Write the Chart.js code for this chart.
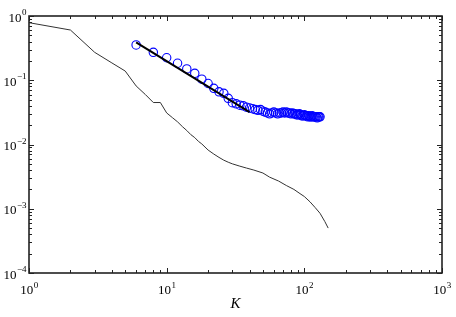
<!DOCTYPE html>
<html>
<head>
<meta charset="utf-8">
<script src="https://cdn.jsdelivr.net/npm/chart.js@4/dist/chart.umd.min.js"></script>
<style>
  html, body { margin: 0; padding: 0; background: #fff; }
  #chart { display: block; }
</style>
</head>
<body>
<canvas id="chart" width="456" height="317"></canvas>
<script>
// degree distribution (thin black curve)
const curveK = [1, 2, 3, 4, 5, 6, 7, 8, 9, 10, 11, 12, 13, 14, 15, 16, 17, 18, 20, 22, 24, 26, 28, 30,
  34, 38, 43, 50, 56, 65, 74, 84, 93, 100, 110, 120, 130, 141, 149];
const curveP = [0.787, 0.605, 0.272, 0.186, 0.139, 0.0815, 0.060, 0.045, 0.045, 0.031, 0.0262, 0.0225,
  0.019, 0.0165, 0.0142, 0.0128, 0.0112, 0.0102, 0.0082, 0.0071, 0.0063, 0.0057, 0.0053, 0.0050,
  0.0046, 0.0043, 0.0040, 0.0036, 0.0031, 0.0027, 0.0023, 0.0020, 0.00172, 0.00155, 0.00128,
  0.00104, 0.00085, 0.00063, 0.00050];

// blue circles
const circleK = [6, 8, 10, 12, 14, 16, 18, 20, 22, 24, 26, 28, 30, 32, 34, 36, 38, 40, 42, 44, 46, 48,
  50, 52, 54, 56, 58, 60, 62, 64, 66, 68, 70, 72, 74, 76, 78, 80, 82, 84, 86, 88, 90, 92, 94, 96, 98,
  100, 102, 104, 106, 108, 110, 112, 114, 116, 118, 120, 122, 124, 126, 128, 130];
const circleP = [0.354, 0.272, 0.224, 0.184, 0.150, 0.128, 0.104, 0.089, 0.075, 0.066, 0.0626, 0.0524,
  0.0448, 0.043, 0.041, 0.040, 0.038, 0.037, 0.036, 0.035, 0.034, 0.035, 0.033, 0.032, 0.031, 0.030,
  0.031, 0.032, 0.031, 0.030, 0.031, 0.031, 0.032, 0.031, 0.032, 0.031, 0.031, 0.030, 0.031, 0.030,
  0.030, 0.029, 0.029, 0.030, 0.029, 0.028, 0.028, 0.029, 0.028, 0.028, 0.027, 0.028, 0.027, 0.027,
  0.028, 0.027, 0.027, 0.027, 0.027, 0.026, 0.027, 0.027, 0.027];

// fitted power-law line
const fitK = [6, 40];
const fitP = [0.39, 0.032];

// axis ticks (1..9 x 10^n)
const xTickVals = [1, 2, 3, 4, 5, 6, 7, 8, 9, 10, 20, 30, 40, 50, 60, 70, 80, 90,
  100, 200, 300, 400, 500, 600, 700, 800, 900, 1000];
const yTickVals = [0.0001, 0.0002, 0.0003, 0.0004, 0.0005, 0.0006, 0.0007, 0.0008, 0.0009,
  0.001, 0.002, 0.003, 0.004, 0.005, 0.006, 0.007, 0.008, 0.009,
  0.01, 0.02, 0.03, 0.04, 0.05, 0.06, 0.07, 0.08, 0.09,
  0.1, 0.2, 0.3, 0.4, 0.5, 0.6, 0.7, 0.8, 0.9, 1];

const SERIF = '"Liberation Serif", "Times New Roman", serif';

const pts = (xs, ys) => xs.map((x, i) => ({ x: x, y: ys[i] }));
const expOf = v => {
  const e = Math.log10(v);
  return Math.abs(e - Math.round(e)) < 1e-6 ? Math.round(e) : null;
};

// inward ticks on all four sides, frame, and 10^n labels
const framePlugin = {
  id: 'frame',
  afterDatasetsDraw(chart) {
    const { ctx, chartArea: a, scales: { x, y } } = chart;
    ctx.save();
    ctx.strokeStyle = '#222';
    ctx.lineWidth = 1;
    ctx.beginPath();
    xTickVals.forEach(v => {
      const px = Math.round(x.getPixelForValue(v)) + 0.5;
      const len = expOf(v) !== null ? 5 : 3;
      ctx.moveTo(px, a.bottom); ctx.lineTo(px, a.bottom - len);
      ctx.moveTo(px, a.top); ctx.lineTo(px, a.top + len);
    });
    yTickVals.forEach(v => {
      const py = Math.round(y.getPixelForValue(v)) + 0.5;
      const len = expOf(v) !== null ? 5 : 3;
      ctx.moveTo(a.left, py); ctx.lineTo(a.left + len, py);
      ctx.moveTo(a.right, py); ctx.lineTo(a.right - len, py);
    });
    ctx.stroke();
    ctx.lineWidth = 1.6;
    ctx.strokeRect(a.left, a.top, a.right - a.left, a.bottom - a.top);

    ctx.fillStyle = '#000';
    ctx.textBaseline = 'alphabetic';
    const drawLabel = (e, cx, base, align) => {
      const exp = String(e).replace('-', '\u2212');
      ctx.font = '13px ' + SERIF;
      const w1 = ctx.measureText('10').width;
      ctx.font = '9px ' + SERIF;
      const w2 = ctx.measureText(exp).width;
      const left = align === 'center' ? cx - (w1 + w2) / 2 : cx - (w1 + w2);
      ctx.textAlign = 'left';
      ctx.font = '13px ' + SERIF;
      ctx.fillText('10', left, base);
      ctx.font = '9px ' + SERIF;
      ctx.fillText(exp, left + w1 + 0.5, base - 6.5);
    };
    xTickVals.forEach(v => {
      const e = expOf(v);
      if (e !== null) drawLabel(e, x.getPixelForValue(v), a.bottom + 21, 'center');
    });
    yTickVals.forEach(v => {
      const e = expOf(v);
      if (e !== null) drawLabel(e, a.left - 3, y.getPixelForValue(v) + 5.5, 'right');
    });

    ctx.font = 'italic 15px ' + SERIF;
    ctx.textAlign = 'center';
    ctx.fillText('K', (a.left + a.right) / 2, a.bottom + 35);
    ctx.restore();
  }
};

new Chart(document.getElementById('chart'), {
  type: 'scatter',
  data: {
    datasets: [
      {
        label: 'fit',
        data: pts(fitK, fitP),
        showLine: true,
        borderColor: '#000',
        borderWidth: 2,
        pointRadius: 0,
        order: 0
      },
      {
        label: 'circles',
        data: pts(circleK, circleP),
        showLine: false,
        borderColor: '#0000ff',
        backgroundColor: 'rgba(0,0,0,0)',
        borderWidth: 1.1,
        pointRadius: 4.2,
        order: 1
      },
      {
        label: 'curve',
        data: pts(curveK, curveP),
        showLine: true,
        borderColor: '#333',
        borderWidth: 1,
        pointRadius: 0,
        order: 2
      }
    ]
  },
  options: {
    responsive: false,
    animation: false,
    devicePixelRatio: 1,
    layout: { padding: { top: 16, right: 14, left: 0, bottom: 0 } },
    plugins: { legend: { display: false }, tooltip: { enabled: false } },
    scales: {
      x: {
        type: 'logarithmic',
        min: 1,
        max: 1000,
        grid: { display: false, drawTicks: false },
        border: { display: false },
        ticks: { display: false },
        afterFit: s => { s.height = 44; }
      },
      y: {
        type: 'logarithmic',
        min: 0.0001,
        max: 1,
        grid: { display: false, drawTicks: false },
        border: { display: false },
        ticks: { display: false },
        afterFit: s => { s.width = 29; }
      }
    }
  },
  plugins: [framePlugin]
});
</script>
</body>
</html>
